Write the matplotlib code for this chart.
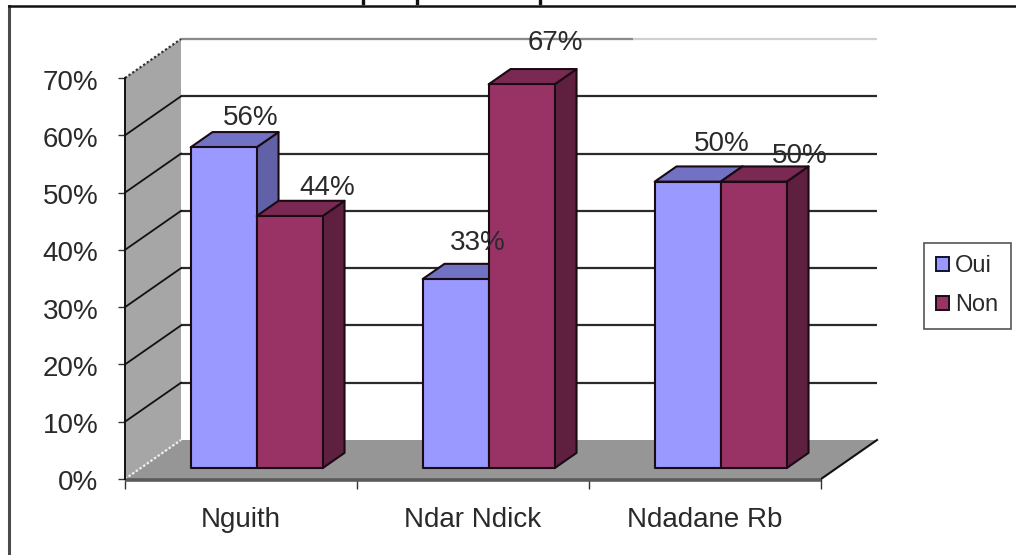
import matplotlib
matplotlib.use("Agg")
import matplotlib.pyplot as plt
from matplotlib.patches import Polygon, Patch
from matplotlib.lines import Line2D
from matplotlib.transforms import ScaledTranslation

plt.rcParams['font.family'] = ['Liberation Sans', 'DejaVu Sans']

categories = ["Nguith", "Ndar Ndick", "Ndadane Rb"]
oui_values = [56, 33, 50]
non_values = [44, 67, 50]
y_ticks = [0, 10, 20, 30, 40, 50, 60, 70]

W, H = 1016, 555
fig = plt.figure(figsize=(W / 100, H / 100), dpi=100, facecolor="white")
ax = fig.add_axes([125 / W, (H - 479) / H, 696 / W, 401 / H])
ax.set_xlim(0, 3)
ax.set_ylim(0, 70)
ax.patch.set_visible(False)

DX = 56 / 232
DY = 39 / 5.729
def P(x, y, d=0.0):
    return (x + DX * d, y + DY * d)

# walls and floor
ax.add_patch(Polygon([P(0, 0), P(0, 70), P(0, 70, 1), P(0, 0, 1)], fc="#A6A6A6", ec="none", clip_on=False, zorder=1))
ax.add_patch(Polygon([P(0, 0), P(3, 0), P(3, 0, 1), P(0, 0, 1)], fc="#969696", ec="none", clip_on=False, zorder=1))

# gridlines
for v in y_ticks[1:]:
    c = "#D0D0D0" if v == 70 else "#2A2A2A"
    xs, ys = zip(P(0, v, 1), P(3, v, 1))
    ax.plot(xs, ys, color=c, lw=1.6, clip_on=False, zorder=2, solid_capstyle="butt")
    if v < 70:
        xs, ys = zip(P(0, v), P(0, v, 1))
        ax.plot(xs, ys, color="#111111", lw=1.3, clip_on=False, zorder=2)
xs, ys = zip(P(0, 70, 1), P(1.95, 70, 1))
ax.plot(xs, ys, color="#8A8A8A", lw=1.6, clip_on=False, zorder=2, solid_capstyle="butt")

# dotted edges
for v, col in ((70, "#333333"), (0, "#F2F2F2")):
    xs, ys = zip(P(0, v), P(0, v, 1))
    ax.plot(xs, ys, color=col, lw=1.6, ls=(0, (1, 1)), clip_on=False, zorder=2)
xs, ys = zip(P(3, 0), P(3, 0, 1))
ax.plot(xs, ys, color="#111111", lw=1.5, clip_on=False, zorder=3)
ax.plot([0, 3], [-0.1, -0.1], color="#5A5A5A", lw=2.6, clip_on=False, zorder=3, solid_capstyle="butt")

# bars
FRONT = 0.28
DEPTH = 0.39
GAP = 50 / 232
BW = 66 / 232
def bar(x0, v, front, top, side, z):
    x1 = x0 + BW
    d0, d1 = FRONT, FRONT + DEPTH
    kw = dict(ec="#1A0A14", lw=1.5, clip_on=False, zorder=z, joinstyle="round")
    ax.add_patch(Polygon([P(x1, 0, d0), P(x1, 0, d1), P(x1, v, d1), P(x1, v, d0)], fc=side, **kw))
    ax.add_patch(Polygon([P(x0, v, d0), P(x1, v, d0), P(x1, v, d1), P(x0, v, d1)], fc=top, **kw))
    ax.add_patch(Polygon([P(x0, 0, d0), P(x1, 0, d0), P(x1, v, d0), P(x0, v, d0)], fc=front, **kw))

OUI = ("#9999FF", "#7272C4", "#6161A8")
NON = ("#993366", "#7A2952", "#5F203F")
for i in range(len(categories)):
    bar(i + GAP, oui_values[i], *OUI, 4 + i * 2)
    bar(i + GAP + BW, non_values[i], *NON, 5 + i * 2)

# data labels (hand-placed offsets from bar-top centre, px)
oui_off = [(27, 29), (22, 36), (34, 38)]
non_off = [(38, 28), (34, 41), (46, 26)]
TXT = "#2A2A2A"
for i in range(len(categories)):
    for x0, v, off in ((i + GAP, oui_values[i], oui_off[i]), (i + GAP + BW, non_values[i], non_off[i])):
        px, py = P(x0 + BW / 2, v, FRONT)
        ax.annotate(f"{v}%", (px, py), xytext=(off[0] * 0.72, off[1] * 0.72), textcoords="offset points",
                    ha="center", va="center", fontsize=20, color=TXT, zorder=20, annotation_clip=False)

# axes
for s in ("top", "right"):
    ax.spines[s].set_visible(False)
ax.spines["left"].set_color("#111111")
ax.spines["left"].set_linewidth(1.4)
ax.spines["left"].set_zorder(3)
ax.spines["bottom"].set_visible(False)
ax.set_yticks(y_ticks)
ax.set_yticklabels([f"{v}%" for v in y_ticks], fontsize=20, color=TXT)
ax.tick_params(axis="y", length=5, width=1, color="#333333", pad=14)
shift = ScaledTranslation(0, -1.5 / 100, fig.dpi_scale_trans)
for lab in ax.get_yticklabels():
    lab.set_transform(lab.get_transform() + shift)
ax.set_xticks([0, 1, 2, 3])
ax.set_xticklabels([])
ax.tick_params(axis="x", which="major", length=7, width=1, color="#333333")
ax.set_xticks([0.5, 1.5, 2.5], minor=True)
ax.set_xticklabels(categories, minor=True, fontsize=20, color=TXT)
ax.tick_params(axis="x", which="minor", length=0, pad=20)

# legend
handles = [Patch(fc=OUI[0], ec="#111133", lw=1.4, label="Oui"), Patch(fc=NON[0], ec="#1A0A14", lw=1.4, label="Non")]
leg = fig.legend(handles=handles, loc="upper left", bbox_to_anchor=(924 / W, 1 - 243 / H), bbox_transform=fig.transFigure,
                 fontsize=17, frameon=True, fancybox=False, edgecolor="#555555", framealpha=1,
                 handlelength=0.52, handleheight=0.52, handletextpad=0.28, labelspacing=0.72,
                 borderpad=0.52, borderaxespad=0, labelcolor=TXT)
leg.get_frame().set_linewidth(1.2)

# outer frame
fig.add_artist(Line2D([9 / W, 9 / W], [0, 1 - 6 / H], color="#4A4A4A", lw=2.2, transform=fig.transFigure))
fig.add_artist(Line2D([9 / W, 1], [1 - 6 / H, 1 - 6 / H], color="#111111", lw=1.8, transform=fig.transFigure))
# remnants of the cropped heading above the frame
for px in (363, 417, 540):
    fig.add_artist(Line2D([px / W, px / W], [1 - 3 / H, 1], color="#111111", lw=2.4, transform=fig.transFigure))

fig.savefig("out.png", dpi=100, facecolor="white")
